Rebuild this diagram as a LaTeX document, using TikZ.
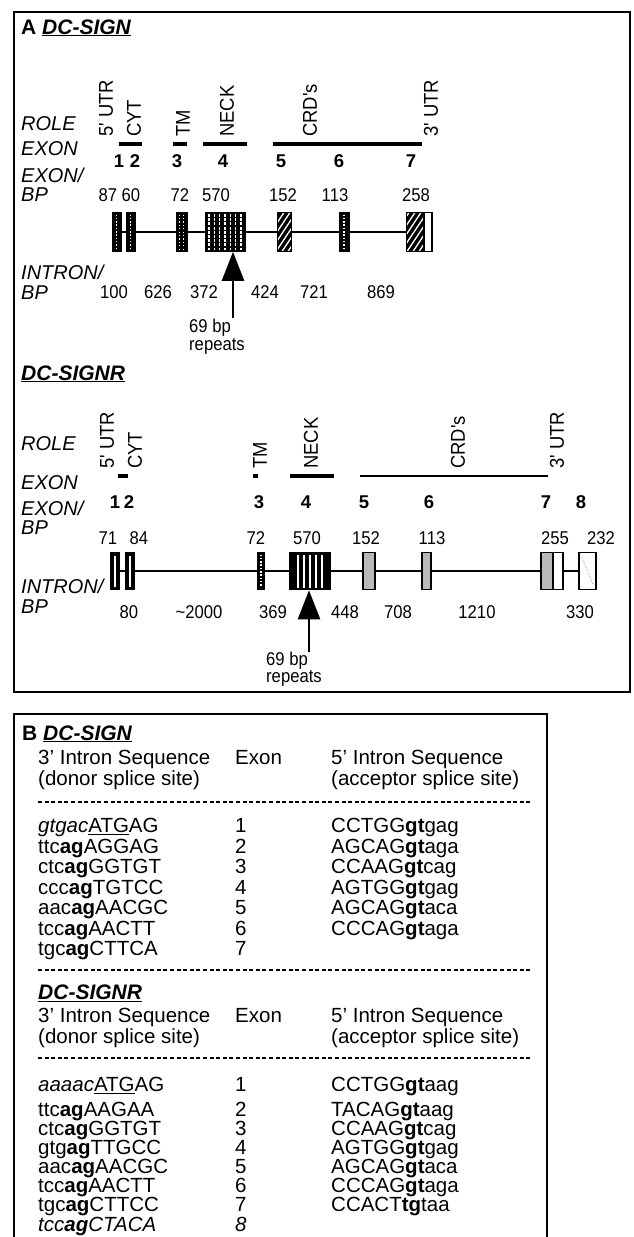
\documentclass[tikz,border=0pt]{standalone}
\usepackage{fontspec}
\setmainfont{Liberation Sans}
\newfontfamily\numfont{Liberation Sans}[FakeStretch=0.9]
\newfontfamily\rotfont{Liberation Sans}[FakeStretch=0.92]
\usetikzlibrary{arrows.meta,calc}
\newcommand\Brow[5]{\node[btx] (#1a) at (38,#2) {#3}; \node[btx] (#1b) at (235,#2) {#4}; \node[btx] (#1c) at (331,#2) {#5};}
\newcommand\BrowTwo[4]{\node[btx] (#1a) at (38,#2) {#3}; \node[btx] (#1b) at (235,#2) {#4};}
\begin{document}
\begin{tikzpicture}[x=1pt,y=-1pt,
 lab/.style={anchor=base west,inner sep=0pt,font=\fontsize{20}{20}\selectfont\itshape},
 ttl/.style={anchor=base west,inner sep=0pt,font=\fontsize{21}{21}\selectfont\bfseries},
 rot/.style={rotate=90,anchor=west,inner sep=0pt,font=\rotfont\fontsize{20}{20}\selectfont},
 enum/.style={anchor=base,inner sep=0pt,font=\fontsize{18.5}{18.5}\selectfont\bfseries},
 num/.style={anchor=base,inner sep=0pt,font=\numfont\fontsize{18.5}{18.5}\selectfont},
 btx/.style={anchor=base west,inner sep=0pt,font=\fontsize{20.5}{20.5}\selectfont},
 bar/.style={line width=3.5pt},
 intron/.style={line width=2.2pt},
 frame/.style={line width=2pt},
 dsh/.style={line width=1.4pt,dash pattern=on 4pt off 2.6pt},
 arr/.style={line width=2.6pt,-{Triangle[length=29pt,width=22pt]}},
 ex/.style={inner sep=0pt,minimum height=39pt,fill=black,draw=black,line width=0.6pt},
 exr/.style={inner sep=0pt,minimum height=37pt,draw=black,line width=1.6pt},
 vdot/.style={path picture={\draw[white,line width=1.2pt,dash pattern=on 1.5pt off 1.8pt]([yshift=-2pt]path picture bounding box.north)--([yshift=2pt]path picture bounding box.south);}},
 vline/.style={path picture={\draw[white,line width=1.3pt]([yshift=-3pt]path picture bounding box.north)--([yshift=3pt]path picture bounding box.south);}},
 speck/.style={path picture={\foreach \f in {0.3,0.7}{\draw[white,line width=1.1pt,dash pattern=on 1.2pt off 2.2pt]($(path picture bounding box.north west)!\f!(path picture bounding box.north east)+(0pt,-2pt)$)--($(path picture bounding box.south west)!\f!(path picture bounding box.south east)+(0pt,2pt)$);}}},
 stripA/.style={path picture={\foreach \f in {0.1,0.233,0.366,0.5,0.633,0.766,0.9}{\draw[white,line width=1.2pt,dash pattern=on 3pt off 1.2pt]($(path picture bounding box.north west)!\f!(path picture bounding box.north east)+(0pt,-1.5pt)$)--($(path picture bounding box.south west)!\f!(path picture bounding box.south east)+(0pt,1.5pt)$);}}},
 stripR/.style={path picture={\foreach \f in {0.2,0.35,0.5,0.65,0.8}{\draw[white,line width=1.5pt]($(path picture bounding box.north west)!\f!(path picture bounding box.north east)+(0pt,-2pt)$)--($(path picture bounding box.south west)!\f!(path picture bounding box.south east)+(0pt,2pt)$);}}},
 hatchw/.style={path picture={\foreach \k in {-50,-44,...,50}{\draw[white,line width=1.3pt]([xshift=\k*1pt]path picture bounding box.south)--++(30pt,45pt);}}},
 diag/.style={path picture={\draw[gray!70,line width=0.9pt,dash pattern=on 1pt off 1.5pt]([xshift=3pt,yshift=-5pt]path picture bounding box.north west)--([xshift=-3pt,yshift=5pt]path picture bounding box.south east);}},
]
\useasboundingbox (0,0) rectangle (633,1237);
% ================= Panel A =================
\draw[frame] (14,12) rectangle (630,692);
\node[ttl] (tA) at (21,34) {A \underline{\textit{DC-SIGN}}};
\node[lab] (roleA) at (21,130) {ROLE};
\node[lab] (exonA) at (21,155) {EXON};
\node[lab] (exbpA1) at (21,182) {EXON/};
\node[lab] (exbpA2) at (21,201) {BP};
\node[lab] (inA1) at (21,279) {INTRON/};
\node[lab] (inA2) at (21,299) {BP};
\node[rot] (rA1) at (106,137) {5' UTR};
\node[rot] (rA2) at (134,137) {CYT};
\node[rot] (rA3) at (183,137) {TM};
\node[rot] (rA4) at (227,137) {NECK};
\node[rot] (rA5) at (310,137) {CRD's};
\node[rot] (rA6) at (431,137) {3' UTR};
\draw[bar] (119,144)--(142,144) (173,144)--(187,144) (203,144)--(247,144) (273,144)--(422,144);
\foreach \px/\lb [count=\i] in {119/1,135/2,177/3,223/4,281/5,339/6,411/7} \node[enum] (eA\i) at (\px,167) {\lb};
\foreach \px/\lb [count=\i] in {108/87,131/60,180/72,216/570,283/152,335/113,416/258} \node[num] (bA\i) at (\px,201) {\lb};
\node[ex,minimum width=9pt,vdot] (a1) at (116.5,232) {};
\node[ex,minimum width=9pt,vdot] (a2) at (130.5,232) {};
\node[ex,minimum width=11pt,speck] (a3) at (181.5,232) {};
\node[ex,minimum width=40pt,stripA] (a4) at (225,232) {};
\node[ex,minimum width=14pt,hatchw] (a5) at (284,232) {};
\node[ex,minimum width=10pt,vdot] (a6) at (344,232) {};
\node[ex,minimum width=18pt,hatchw] (a7) at (415,232) {};
\node[ex,fill=white,line width=1.6pt,minimum width=8pt] (a7u) at (428,232) {};
\draw[intron] (a1.east)--(a2.west) (a2.east)--(a3.west) (a3.east)--(a4.west) (a4.east)--(a5.west) (a5.east)--(a6.west) (a6.east)--(a7.west);
\foreach \px/\lb [count=\i] in {114/100,158/626,204/372,265/424,314/721,381/869} \node[num] (iA\i) at (\px,298.5) {\lb};
\node[num,anchor=base west] (rpA1) at (189,332) {69 bp};
\node[num,anchor=base west] (rpA2) at (189,350) {repeats};
\coordinate (endA) at (233,318);
\draw[arr] (endA) -- (endA |- a4.south);
% ================= DC-SIGNR =================
\node[ttl] (tR) at (21,380) {\underline{\textit{DC-SIGNR}}};
\node[lab] (roleR) at (21,450) {ROLE};
\node[lab] (exonR) at (21,489) {EXON};
\node[lab] (exbpR1) at (21,515) {EXON/};
\node[lab] (exbpR2) at (21,534) {BP};
\node[lab] (inR1) at (21,593) {INTRON/};
\node[lab] (inR2) at (21,613) {BP};
\node[rot] (rR1) at (107,469) {5' UTR};
\node[rot] (rR2) at (135,469) {CYT};
\node[rot] (rR3) at (260,469) {TM};
\node[rot] (rR4) at (311,469) {NECK};
\node[rot] (rR5) at (458,469) {CRD's};
\node[rot] (rR6) at (557,469) {3' UTR};
\draw[bar] (118,476)--(128,476) (253,476)--(258,476) (290,476)--(334,476);
\draw[line width=2pt] (360,476)--(548,476);
\foreach \px/\lb [count=\i] in {115/1,129/2,259/3,306/4,364/5,429/6,546/7,581/8} \node[enum] (eR\i) at (\px,508) {\lb};
\foreach \px/\lb [count=\i] in {108/71,139/84,256/72,307/570,366/152,432/113,555/255,601/232} \node[num] (bR\i) at (\px,544.5) {\lb};
\node[exr,minimum width=8pt,fill=black,vline] (r1) at (115,571) {};
\node[exr,minimum width=8pt,fill=black,vline] (r2) at (130,571) {};
\node[exr,minimum width=6pt,fill=black,vdot] (r3) at (261,571) {};
\node[exr,minimum width=40pt,fill=black,stripR] (r4) at (310,571) {};
\node[exr,minimum width=12pt,fill=gray!55] (r5) at (369,571) {};
\node[exr,minimum width=9pt,fill=gray!55] (r6) at (426.5,571) {};
\node[exr,minimum width=12pt,fill=gray!55] (r7) at (547,571) {};
\node[exr,minimum width=10pt,fill=white] (r7u) at (558,571) {};
\node[exr,minimum width=17pt,fill=white,diag] (r8) at (587.5,571) {};
\draw[intron] (r1.east)--(r2.west) (r2.east)--(r3.west) (r3.east)--(r4.west) (r4.east)--(r5.west) (r5.east)--(r6.west) (r6.east)--(r7.west) (r7u.east)--(r8.west);
\foreach \px/\lb [count=\i] in {129/80,199/\textasciitilde 2000,273/369,345/448,398/708,477/1210,580/330} \node[num] (iR\i) at (\px,618) {\lb};
\node[num,anchor=base west] (rpR1) at (266,665) {69 bp};
\node[num,anchor=base west] (rpR2) at (266,682) {repeats};
\coordinate (endR) at (309,652);
\draw[arr] (endR) -- (endR |- r4.south);
% ================= Panel B =================
\draw[frame] (14,1237) -- (14,714) -- (547,714) -- (547,1237);
\node[ttl] (tB) at (22,740) {B \underline{\textit{DC-SIGN}}};
\Brow{hA}{764.5}{3' Intron Sequence}{Exon}{5' Intron Sequence}
\node[btx] (hA2a) at (38,785.5) {(donor splice site)};
\node[btx] (hA2c) at (331,785.5) {(acceptor splice site)};
\draw[dsh] (38,802) -- (532,802);
\Brow{sA1}{832.5}{\textit{gtgac}\underline{ATG}AG}{1}{CCTGG\textbf{gt}gag}
\Brow{sA2}{853}{ttc\textbf{ag}AGGAG}{2}{AGCAG\textbf{gt}aga}
\Brow{sA3}{873.5}{ctc\textbf{ag}GGTGT}{3}{CCAAG\textbf{gt}cag}
\Brow{sA4}{894}{ccc\textbf{ag}TGTCC}{4}{AGTGG\textbf{gt}gag}
\Brow{sA5}{914.5}{aac\textbf{ag}AACGC}{5}{AGCAG\textbf{gt}aca}
\Brow{sA6}{935}{tcc\textbf{ag}AACTT}{6}{CCCAG\textbf{gt}aga}
\BrowTwo{sA7}{955.5}{tgc\textbf{ag}CTTCA}{7}
\draw[dsh] (38,970) -- (532,970);
\node[ttl] (tB2) at (38,999.5) {\underline{\textit{DC-SIGNR}}};
\Brow{hR}{1022.5}{3' Intron Sequence}{Exon}{5' Intron Sequence}
\node[btx] (hR2a) at (38,1043.5) {(donor splice site)};
\node[btx] (hR2c) at (331,1043.5) {(acceptor splice site)};
\draw[dsh] (38,1058) -- (532,1058);
\Brow{sR1}{1091.5}{\textit{aaaac}\underline{ATG}AG}{1}{CCTGG\textbf{gt}aag}
\Brow{sR2}{1116}{ttc\textbf{ag}AAGAA}{2}{TACAG\textbf{gt}aag}
\Brow{sR3}{1135.5}{ctc\textbf{ag}GGTGT}{3}{CCAAG\textbf{gt}cag}
\Brow{sR4}{1154.5}{gtg\textbf{ag}TTGCC}{4}{AGTGG\textbf{gt}gag}
\Brow{sR5}{1173.5}{aac\textbf{ag}AACGC}{5}{AGCAG\textbf{gt}aca}
\Brow{sR6}{1192.5}{tcc\textbf{ag}AACTT}{6}{CCCAG\textbf{gt}aga}
\Brow{sR7}{1211.5}{tgc\textbf{ag}CTTCC}{7}{CCACT\textbf{tg}taa}
\BrowTwo{sR8}{1231.5}{\textit{tcc\textbf{ag}CTACA}}{\textit{8}}
\end{tikzpicture}
\end{document}
